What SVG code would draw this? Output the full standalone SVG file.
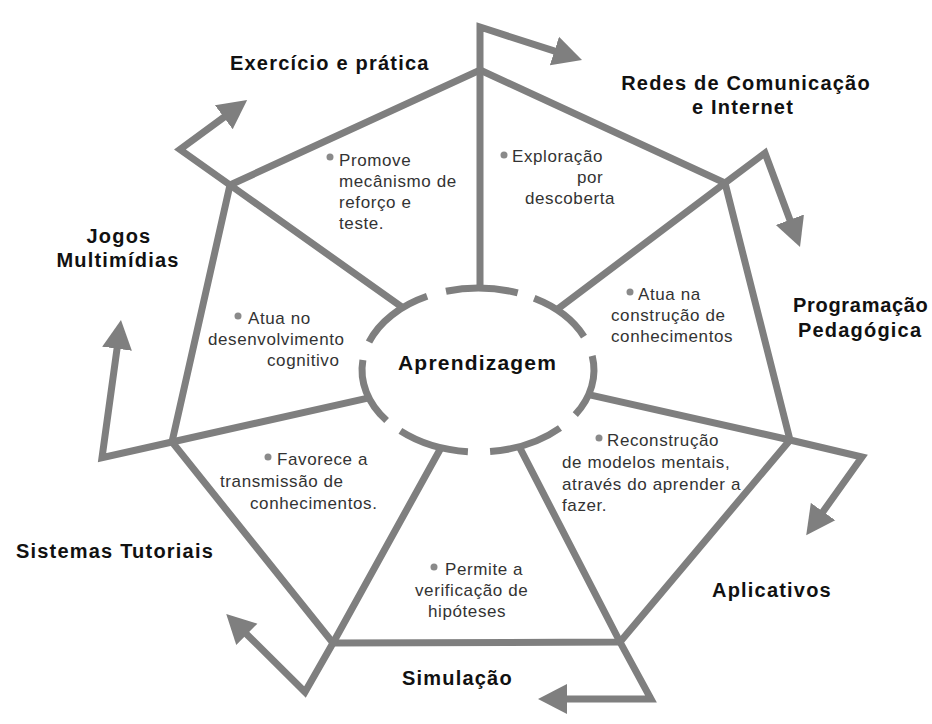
<svg xmlns="http://www.w3.org/2000/svg" width="932" height="724" viewBox="0 0 932 724">
<style>
.ln{fill:none;stroke:#7f7f7f;stroke-width:7;stroke-linejoin:miter;stroke-miterlimit:10}
.arr{fill:none;stroke:#7f7f7f;stroke-width:7;stroke-linejoin:miter;stroke-miterlimit:10;marker-end:url(#ah)}
.ring{fill:none;stroke:#7f7f7f;stroke-width:7}
.ttl{font-family:"Liberation Sans",Arial,sans-serif;font-weight:bold;font-size:20px;letter-spacing:1.2px;fill:#111}
.txt{font-family:"Liberation Sans",Arial,sans-serif;font-size:17px;letter-spacing:0.6px;fill:#333}
.dot{fill:#8a8a8a}
</style>
<defs>
<marker id="ah" markerUnits="userSpaceOnUse" markerWidth="32" markerHeight="32" viewBox="0 -16 32 32" refX="2" refY="0" orient="auto">
<path d="M0,-15 L29,0 L0,15 z" fill="#7f7f7f"/>
</marker>
</defs>
<rect width="932" height="724" fill="#ffffff"/>

<g id="connectors">
<polygon class="ln" points="480,70 725,183 790,440 620,642 333,643 172,442 230,185"/>
<polyline class="arr" points="480,288 480,27 556.3,51.7"/>
<polyline class="arr" points="556.7,309.7 725,183 765,153 790.6,221.7"/>
<polyline class="arr" points="588.6,394.7 790,440 862,457 821.9,513.2"/>
<polyline class="arr" points="519.2,446.7 620,642 651,699 565,699"/>
<polyline class="arr" points="441,447.7 333,643 305,692 245.4,632.9"/>
<polyline class="arr" points="368.9,397.9 172,442 102,457.7 117.3,346.7"/>
<polyline class="arr" points="402.7,307.6 230,185 180,149.5 225.4,116.1"/>
</g>

<g id="aprendizagem">
<path class="ring" d="M446,291.2 A116,82 0 0,1 517.7,292.9"/>
<path class="ring" d="M534.2,298.3 A116,82 0 0,1 584,336.6"/>
<path class="ring" d="M592.2,355.8 A116,82 0 0,1 575.3,414.7"/>
<path class="ring" d="M560,428 A116,82 0 0,1 490.1,451.5"/>
<path class="ring" d="M467.9,451.7 A116,82 0 0,1 400.4,430.9"/>
<path class="ring" d="M386.6,420.5 A116,82 0 0,1 362.9,360"/>
<path class="ring" d="M369,342 A116,82 0 0,1 427.1,296.3"/>
<text class="ttl" x="398" y="370" style="font-size:21px">Aprendizagem</text>
</g>

<g id="exercicio"><text class="ttl" x="230" y="70">Exercício e prática</text></g>
<g id="redes">
<text class="ttl" x="746" y="90" text-anchor="middle">Redes de Comunicação</text>
<text class="ttl" x="743" y="114" text-anchor="middle">e Internet</text>
</g>
<g id="programacao">
<text class="ttl" x="793" y="312" style="letter-spacing:0.7px">Programação</text>
<text class="ttl" x="798" y="337">Pedagógica</text>
</g>
<g id="aplicativos"><text class="ttl" x="712" y="597">Aplicativos</text></g>
<g id="simulacao"><text class="ttl" x="402" y="685">Simulação</text></g>
<g id="tutoriais"><text class="ttl" x="16" y="558">Sistemas Tutoriais</text></g>
<g id="jogos">
<text class="ttl" x="119" y="243" text-anchor="middle">Jogos</text>
<text class="ttl" x="118" y="267" text-anchor="middle">Multimídias</text>
</g>

<g id="desc-exercicio">
<circle class="dot" cx="330" cy="157" r="3.5"/>
<text class="txt"><tspan x="339" y="166">Promove</tspan><tspan x="339" y="187">mecânismo de</tspan><tspan x="339" y="208">reforço e</tspan><tspan x="339" y="229">teste.</tspan></text>
</g>
<g id="desc-redes">
<circle class="dot" cx="504" cy="155" r="3.5"/>
<text class="txt"><tspan x="512" y="162">Exploração</tspan><tspan x="577" y="183">por</tspan><tspan x="525" y="204">descoberta</tspan></text>
</g>
<g id="desc-programacao">
<circle class="dot" cx="630" cy="292" r="3.5"/>
<text class="txt"><tspan x="638" y="300">Atua na</tspan><tspan x="611" y="321">construção de</tspan><tspan x="611" y="342">conhecimentos</tspan></text>
</g>
<g id="desc-jogos">
<circle class="dot" cx="238" cy="316" r="3.5"/>
<text class="txt"><tspan x="248" y="324">Atua no</tspan><tspan x="208" y="345">desenvolvimento</tspan><tspan x="267" y="366">cognitivo</tspan></text>
</g>
<g id="desc-tutoriais">
<circle class="dot" cx="268" cy="457" r="3.5"/>
<text class="txt"><tspan x="277" y="465">Favorece a</tspan><tspan x="220" y="487">transmissão de</tspan><tspan x="250" y="509">conhecimentos.</tspan></text>
</g>
<g id="desc-aplicativos">
<circle class="dot" cx="599" cy="438" r="3.5"/>
<text class="txt"><tspan x="607" y="446">Reconstrução</tspan><tspan x="562" y="468">de modelos mentais,</tspan><tspan x="562" y="490">através do aprender a</tspan><tspan x="562" y="511">fazer.</tspan></text>
</g>
<g id="desc-simulacao">
<circle class="dot" cx="434" cy="567" r="3.5"/>
<text class="txt"><tspan x="445" y="575">Permite a</tspan><tspan x="415" y="596">verificação de</tspan><tspan x="428" y="617">hipóteses</tspan></text>
</g>
</svg>
